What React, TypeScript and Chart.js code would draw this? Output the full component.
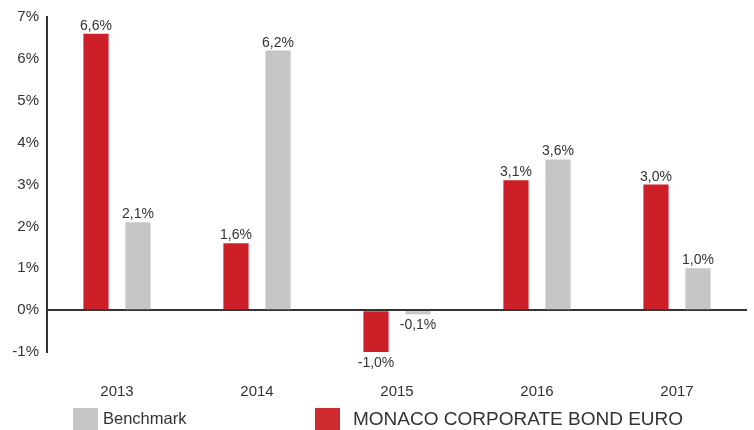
import React, { useEffect, useRef } from "react";
import { Chart, registerables } from "chart.js";

Chart.register(...registerables);

const categories = ["2013", "2014", "2015", "2016", "2017"];
const fundValues = [6.6, 1.6, -1.0, 3.1, 3.0];
const benchmarkValues = [2.1, 6.2, -0.1, 3.6, 1.0];
const fundLabel = "MONACO CORPORATE BOND EURO";
const benchmarkLabel = "Benchmark";
const yMin = -1;
const yMax = 7;
const yStep = 1;

const RED = "#CD1F28";
const GRAY = "#C6C5C7";
const TEXT = "#333333";
const FONT = "'Liberation Sans', Arial, sans-serif";

const fmt = (v: number) => v.toFixed(1).replace(".", ",") + "%";

const valueLabels = {
  id: "valueLabels",
  afterDatasetsDraw(chart: any) {
    const ctx = chart.ctx;
    ctx.save();
    ctx.font = `14px ${FONT}`;
    ctx.fillStyle = TEXT;
    ctx.textAlign = "center";
    chart.data.datasets.forEach((ds: any, i: number) => {
      const meta = chart.getDatasetMeta(i);
      meta.data.forEach((el: any, j: number) => {
        const v = ds.data[j] as number;
        if (v >= 0) {
          ctx.textBaseline = "alphabetic";
          ctx.fillText(fmt(v), el.x, el.y - 4);
        } else {
          ctx.textBaseline = "top";
          ctx.fillText(fmt(v), el.x, el.y + 4);
        }
      });
    });
    ctx.restore();
  },
};

export default function App() {
  const ref = useRef<HTMLCanvasElement>(null);
  useEffect(() => {
    document.body.style.margin = "0";
    const chart = new Chart(ref.current!, {
      type: "bar",
      data: {
        labels: categories,
        datasets: [
          {
            label: fundLabel,
            data: fundValues,
            backgroundColor: RED,
            categoryPercentage: 0.6,
            barPercentage: 0.6,
          },
          {
            label: benchmarkLabel,
            data: benchmarkValues,
            backgroundColor: GRAY,
            categoryPercentage: 0.6,
            barPercentage: 0.6,
          },
        ],
      },
      options: {
        animation: false,
        responsive: false,
        layout: { padding: { top: 16, right: 7, left: 0, bottom: 0 } },
        plugins: { legend: { display: false }, tooltip: { enabled: false } },
        scales: {
          x: {
            grid: { display: false },
            border: { display: false },
            ticks: { color: TEXT, font: { size: 15, family: FONT }, padding: 23 },
            afterFit: (s: any) => {
              s.height = 78;
            },
          },
          y: {
            min: yMin,
            max: yMax,
            ticks: {
              stepSize: yStep,
              color: TEXT,
              font: { size: 15, family: FONT },
              padding: 8,
              callback: (v: any) => `${v}%`,
            },
            grid: {
              drawTicks: false,
              lineWidth: 2,
              color: (c: any) => (c.tick && c.tick.value === 0 ? TEXT : "rgba(0,0,0,0)"),
            },
            border: { display: true, color: TEXT, width: 2 },
            afterFit: (s: any) => {
              s.width = 47;
            },
          },
        },
      },
      plugins: [valueLabels],
    });
    return () => chart.destroy();
  }, []);

  const legendText: React.CSSProperties = {
    position: "absolute",
    fontFamily: FONT,
    color: TEXT,
    lineHeight: "1",
    whiteSpace: "nowrap",
  };

  return (
    <div style={{ position: "relative", width: 754, height: 430 }}>
      <canvas ref={ref} width={754} height={430} style={{ display: "block" }} />
      <div style={{ position: "absolute", left: 73, top: 408, width: 25, height: 22, background: GRAY }} />
      <div style={{ ...legendText, left: 103, top: 410, fontSize: 16.5 }}>{benchmarkLabel}</div>
      <div style={{ position: "absolute", left: 315, top: 408, width: 25, height: 22, background: "#CE2B31" }} />
      <div style={{ ...legendText, left: 353, top: 409, fontSize: 19 }}>{fundLabel}</div>
    </div>
  );
}
